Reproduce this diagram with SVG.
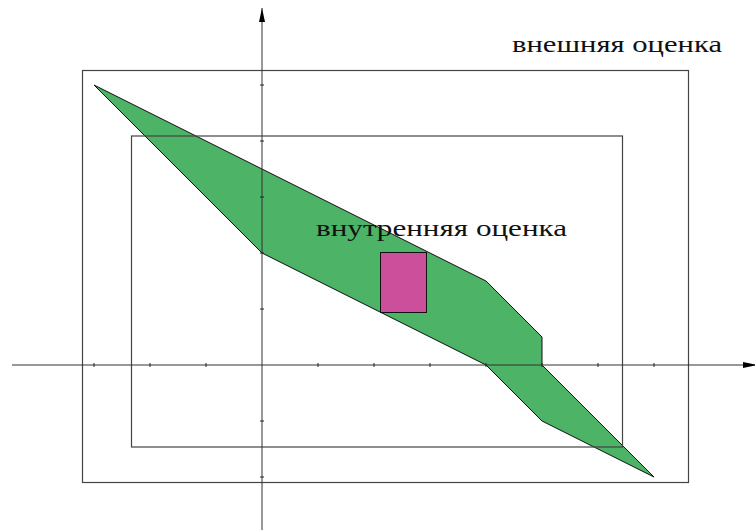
<svg xmlns="http://www.w3.org/2000/svg" width="755" height="530" viewBox="0 0 755 530">
<defs>
<style>
.axis{stroke:#333;stroke-width:1;fill:none}
.tick{stroke:#222;stroke-width:1}
.box{stroke:#444;stroke-width:1.2;fill:none}
.lbl{font-family:"Liberation Serif","DejaVu Serif",serif;font-size:23px;fill:#111}
</style>
<marker id="arr" viewBox="0 0 14 6" refX="14" refY="3" markerWidth="14" markerHeight="6" markerUnits="userSpaceOnUse" orient="auto">
<path d="M0,0 L14,3 L0,6 Z" fill="#000"/>
</marker>
</defs>
<rect width="755" height="530" fill="#fff"/>
<g id="region">
<polygon points="94,85 262,253 486,365 542,421 654,477 542,365 542,337 486,281" fill="#4db366" stroke="#111" stroke-width="1" stroke-linejoin="round"/>
</g>
<g id="inner-rect">
<rect x="380.5" y="252.5" width="46" height="60" fill="#cc4f9b" stroke="#111" stroke-width="1"/>
</g>
<g id="outer-box"><rect class="box" x="82.5" y="70.5" width="606" height="412"/></g>
<g id="inner-box"><rect class="box" x="131.5" y="136" width="491" height="311"/></g>
<g id="connectors">
<line class="axis" x1="12" y1="365" x2="757" y2="365" marker-end="url(#arr)"/>
<line class="axis" x1="262" y1="530" x2="262" y2="8" marker-end="url(#arr)"/>
<g class="tick">
<path d="M94,363V367M150,363V367M206,363V367M318,363V367M374,363V367M430,363V367M486,363V367M542,363V367M598,363V367M654,363V367"/>
<path d="M260,85H264M260,141H264M260,197H264M260,253H264M260,309H264M260,421H264M260,477H264"/>
</g>
</g>
<g id="label-outer"><text class="lbl" x="512" y="52" textLength="210" lengthAdjust="spacingAndGlyphs">внешняя оценка</text></g>
<g id="label-inner"><text class="lbl" x="316" y="236" textLength="251" lengthAdjust="spacingAndGlyphs">внутренняя оценка</text></g>
</svg>
